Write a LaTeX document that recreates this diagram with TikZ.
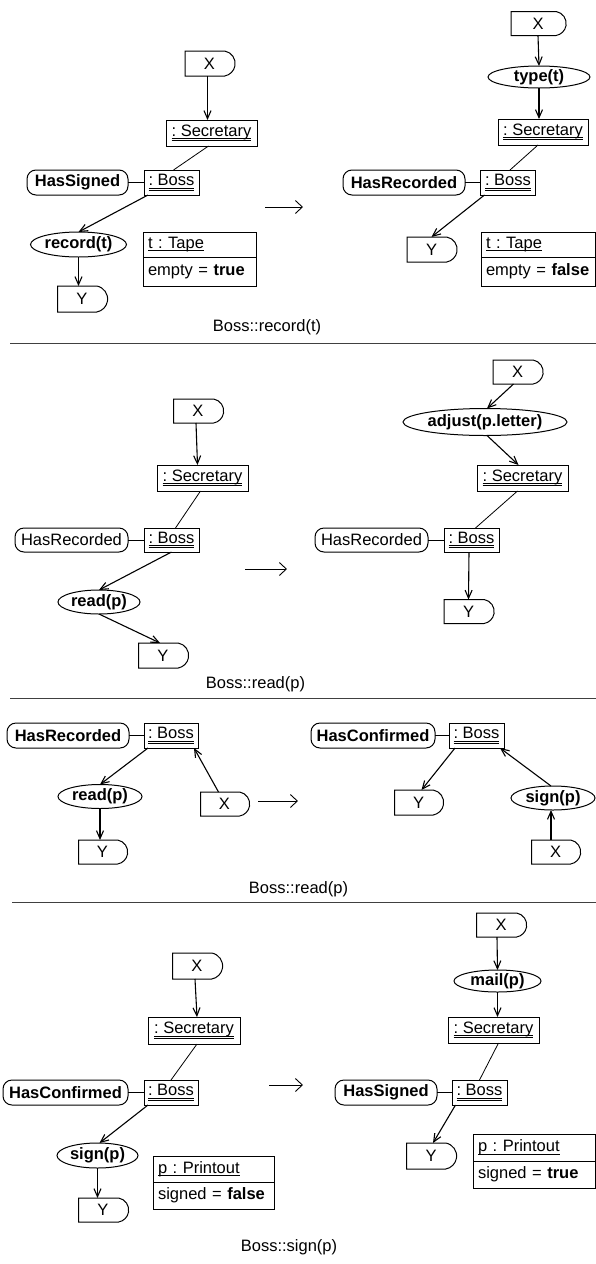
\documentclass[tikz,border=0pt]{standalone}
\usepackage{fontspec}
\setmainfont{Liberation Sans}
\usetikzlibrary{shapes.geometric,shapes.misc,arrows.meta}
\frenchspacing
% object names carry a double underline, attribute-box names a single one
\newsavebox\ulinebox
\newcommand{\dul}[1]{\sbox\ulinebox{#1}\usebox\ulinebox
  \llap{\rule[-2.6pt]{\wd\ulinebox}{0.75pt}}\llap{\rule[-4.6pt]{\wd\ulinebox}{0.75pt}}}
\newcommand{\sul}[1]{\sbox\ulinebox{#1}\usebox\ulinebox
  \llap{\rule[-2.8pt]{\wd\ulinebox}{0.8pt}}}
\begin{document}
\begin{tikzpicture}[x=1pt,y=-1pt,
  every node/.style={font=\fontsize{16.5}{19}\selectfont, inner sep=0pt, outer sep=0pt},
  obj/.style={draw, line width=1pt, minimum height=25pt, minimum width=55pt},
  state/.style={draw, line width=1pt, rounded corners=9pt, minimum height=25pt},
  call/.style={draw, ellipse, line width=1pt, font=\fontsize{16.5}{19}\selectfont\bfseries, minimum height=24pt},
  port/.style={draw, rounded rectangle, rounded rectangle left arc=none,
    rounded rectangle arc length=160, line width=1pt, minimum height=25pt, minimum width=50pt},
  attr/.style={draw, line width=1pt, anchor=north west, align=left, inner xsep=5pt},
  link/.style={line width=1.1pt, -{Straight Barb[length=8pt,width=7pt]}},
  plain/.style={line width=0.8pt},
  trans/.style={line width=0.9pt, -{Straight Barb[length=7pt,width=13pt]}},
  sep/.style={line width=1pt, black!75},
  caption/.style={}
]
\useasboundingbox (0,0) rectangle (596,1264);

% ---------------- rule 1: Boss::record(t) ----------------
\node[port] (x1) at (209.5,63.5) {X};
\node[obj, minimum width=91pt, minimum height=26pt] (sec1) at (211.5,133) {\dul{: Secretary}};
\node[obj] (boss1) at (171.5,182.5) {\dul{: Boss}};
\node[state, minimum width=101pt] (st1) at (77.5,182.5) {\bfseries HasSigned};
\node[call, minimum width=91pt, minimum height=25pt] (op1) at (78.5,244.5) {record(t)};
\node[port, minimum height=26pt] (y1) at (82,299) {Y};
\node[attr, text width=103pt, minimum height=25pt] (ta1) at (143,232) {\sul{t : Tape}};
\node[attr, text width=103pt, minimum height=29pt] (tb1) at (ta1.south west) {empty = \textbf{true}};
\draw[link] ([xshift=-2pt]x1.south) -- ([xshift=-4pt]sec1.north);
\draw[plain] ([xshift=-3pt]sec1.south) -- ([xshift=2pt]boss1.north);
\draw[plain] (st1) -- (boss1);
\draw[link] ([xshift=4pt]boss1.south west) -- (op1.north);
\draw[link] (op1.south) -- (op1.south |- y1.north);

\coordinate (t1s) at (265,207);
\coordinate (t1e) at (303,207);
\draw[trans] (t1s) -- (t1e);

\node[port, minimum width=55pt, minimum height=24pt] (x2) at (538,23.5) {X};
\node[call, minimum width=102pt, minimum height=22pt] (op2) at (539,77) {type(t)};
\node[obj, minimum width=90pt, minimum height=26pt] (sec2) at (543,132) {\dul{: Secretary}};
\node[obj] (boss2) at (508,182.5) {\dul{: Boss}};
\node[state, minimum width=122pt] (st2) at (404,182.5) {\bfseries HasRecorded};
\node[port] (y2) at (431.5,249.5) {Y};
\node[attr, text width=104pt, minimum height=25pt] (ta2) at (481,232) {\sul{t : Tape}};
\node[attr, text width=104pt, minimum height=29pt] (tb2) at (ta2.south west) {empty = \textbf{false}};
\draw[link] (x2.south) -- (op2.north);
\draw[link] (op2.south) -- (op2.south |- sec2.north);
\draw[plain] ([xshift=-5pt]sec2.south) -- ([xshift=2pt]boss2.north);
\draw[plain] (st2) -- (boss2);
\draw[link] ([xshift=4pt]boss2.south west) -- (y2.north);

\node[caption] (c1) at (267,327) {Boss::record(t)};
\coordinate (s1a) at (10,343);
\coordinate (s1b) at (596,343);
\draw[sep] (s1a) -- (s1b);

% ---------------- rule 2: Boss::read(p) ----------------
\node[port, minimum height=24pt] (x3) at (198,411) {X};
\node[obj, minimum width=91pt, minimum height=26pt] (sec3) at (202.5,478) {\dul{: Secretary}};
\node[obj, minimum height=24pt] (boss3) at (171.5,540) {\dul{: Boss}};
\node[state, minimum width=113pt, minimum height=24pt] (st3) at (71.5,540) {HasRecorded};
\node[call, minimum width=82pt] (op3) at (99,602) {read(p)};
\node[port] (y3) at (163,655.5) {Y};
\draw[link] ([xshift=-2pt]x3.south) -- ([xshift=-5pt]sec3.north);
\draw[plain] ([xshift=-2pt]sec3.south) -- ([xshift=4pt]boss3.north);
\draw[plain] (st3) -- (boss3);
\draw[link] (boss3.south) -- (op3.north);
\draw[link] (op3.south) -- ([xshift=-3pt]y3.north);

\coordinate (t2s) at (245,569);
\coordinate (t2e) at (287,569);
\draw[trans] (t2s) -- (t2e);

\node[port, minimum height=24pt] (x4) at (517.5,372) {X};
\node[call, minimum width=164pt, minimum height=27pt] (op4) at (485,422) {adjust(p.letter)};
\node[obj, minimum width=91pt, minimum height=26pt] (sec4) at (522.5,478) {\dul{: Secretary}};
\node[obj, minimum height=24pt] (boss4) at (471.5,540) {\dul{: Boss}};
\node[state, minimum width=113pt, minimum height=24pt] (st4) at (371.5,540) {HasRecorded};
\node[port, minimum height=24pt] (y4) at (468.5,611.5) {Y};
\draw[link] ([xshift=-4pt]x4.south) -- ([xshift=2pt]op4.north);
\draw[link] ([xshift=2pt]op4.south) -- ([xshift=-4pt]sec4.north);
\draw[plain] ([xshift=-5pt]sec4.south) -- ([xshift=4pt]boss4.north);
\draw[plain] (st4) -- (boss4);
\draw[link] ([xshift=-2.5pt]boss4.south) -- (y4.north);

\node[caption] (c2) at (255.5,684) {Boss::read(p)};
\coordinate (s2a) at (10,698);
\coordinate (s2b) at (596,698);
\draw[sep] (s2a) -- (s2b);

% ---------------- rule 3: Boss::read(p) ----------------
\node[state, minimum width=122pt] (st5) at (68,735.5) {\bfseries HasRecorded};
\node[obj, minimum width=54pt] (boss5) at (171,735.5) {\dul{: Boss}};
\node[call, minimum width=84pt] (op5) at (100,796.5) {read(p)};
\node[port, minimum width=49pt, minimum height=24pt] (y5) at (102.5,852) {Y};
\node[port, minimum width=49pt, minimum height=24pt] (x5) at (224.5,804) {X};
\draw[plain] (st5) -- (boss5);
\draw[link] ([xshift=4pt]boss5.south west) -- (op5.north);
\draw[link] (op5.south) -- (op5.south |- y5.north);
\draw[link] ([xshift=-6pt]x5.north) -- ([xshift=-4pt]boss5.south east);

\coordinate (t3s) at (258,801);
\coordinate (t3e) at (298,801);
\draw[trans] (t3s) -- (t3e);

\node[state, minimum width=124pt] (st6) at (373,735.5) {\bfseries HasConfirmed};
\node[obj] (boss6) at (476.5,735.5) {\dul{: Boss}};
\node[port, minimum width=49pt] (y6) at (418.5,802.5) {Y};
\node[call, minimum width=84pt] (op6) at (553,798) {sign(p)};
\node[port, minimum width=49pt, minimum height=24pt] (x6) at (555.5,852) {X};
\draw[plain] (st6) -- (boss6);
\draw[link] ([xshift=6pt]boss6.south west) -- ([xshift=3pt]y6.north);
\draw[link] ([xshift=-2pt]op6.north) -- ([xshift=-4pt]boss6.south east);
\draw[link] ([xshift=-4.5pt]x6.north) -- ([xshift=-2pt]op6.south);

\node[caption] (c3) at (298.5,889) {Boss::read(p)};
\coordinate (s3a) at (12,902);
\coordinate (s3b) at (596,902);
\draw[sep] (s3a) -- (s3b);

% ---------------- rule 4: Boss::sign(p) ----------------
\node[port, minimum height=26pt] (x7) at (197,966) {X};
\node[obj, minimum width=92pt, minimum height=27pt] (sec7) at (194,1030.5) {\dul{: Secretary}};
\node[obj, minimum width=54pt] (boss7) at (171,1092.5) {\dul{: Boss}};
\node[state, minimum width=125pt] (st7) at (65.5,1092.5) {\bfseries HasConfirmed};
\node[call, minimum width=81pt, minimum height=25pt] (op7) at (97.5,1155.5) {sign(p)};
\node[port, minimum height=24pt] (y7) at (103,1210) {Y};
\node[attr, text width=111pt, minimum height=26pt] (pa7) at (153,1156) {\sul{p : Printout}};
\node[attr, text width=111pt, minimum height=27pt] (pb7) at (pa7.south west) {signed = \textbf{false}};
\draw[link] ([xshift=-2pt]x7.south) -- ([xshift=3pt]sec7.north);
\draw[plain] ([xshift=3pt]sec7.south) -- (boss7.north);
\draw[plain] (st7) -- (boss7);
\draw[link] ([xshift=4pt]boss7.south west) -- ([xshift=2pt]op7.north);
\draw[link] (op7.south) -- (op7.south |- y7.north);

\coordinate (t4s) at (269,1085);
\coordinate (t4e) at (303,1085);
\draw[trans] (t4s) -- (t4e);

\node[port, minimum height=24pt] (x8) at (501,925) {X};
\node[call, minimum width=87pt, minimum height=22pt] (op8) at (497.5,981) {mail(p)};
\node[obj, minimum width=91pt, minimum height=26pt] (sec8) at (493.5,1030) {\dul{: Secretary}};
\node[obj] (boss8) at (479.5,1092.5) {\dul{: Boss}};
\node[state, minimum width=102pt] (st8) at (386,1092.5) {\bfseries HasSigned};
\node[port, minimum height=26pt] (y8) at (431,1156) {Y};
\node[attr, text width=112pt, minimum height=27pt] (pa8) at (473,1134) {\sul{p : Printout}};
\node[attr, text width=112pt, minimum height=27pt] (pb8) at (pa8.south west) {signed = \textbf{true}};
\draw[link] ([xshift=-4pt]x8.south) -- (op8.north);
\draw[link] (op8.south) -- (op8.south |- sec8.north);
\draw[plain] ([xshift=5pt]sec8.south) -- (boss8.north);
\draw[plain] (st8) -- (boss8);
\draw[link] ([xshift=-24pt]boss8.south) -- ([xshift=2pt]y8.north);

\node[caption] (c4) at (289,1247) {Boss::sign(p)};
\end{tikzpicture}
\end{document}
